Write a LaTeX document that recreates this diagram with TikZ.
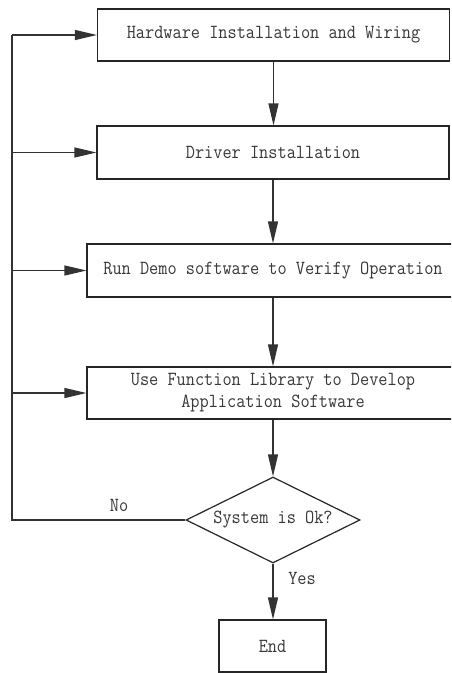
\documentclass[tikz,border=0pt]{standalone}
\usepackage{fontspec}
\setmonofont[FakeStretch=0.89]{Latin Modern Mono}
\usetikzlibrary{shapes.geometric,arrows.meta}
\begin{document}
\begin{tikzpicture}[x=1pt,y=-1pt,line width=1.2pt,
  txt/.style={font=\ttfamily\fontsize{20pt}{22pt}\selectfont,text=black!78},
  box/.style={txt,draw=black!85,rectangle,inner sep=0pt,align=center},
  lbl/.style={txt,inner sep=0pt},
  arr/.style={draw=black!80,-{Triangle[length=22pt,width=10pt]}}]
\useasboundingbox (0,0) rectangle (451,673);
\clip (0,0) rectangle (451,673);
\fill[white] (0,0) rectangle (451,673);
\node[box,minimum width=352pt,minimum height=52pt] (b1) at (273.5,35) {Hardware Installation and Wiring};
\node[box,minimum width=352pt,minimum height=53pt] (b2) at (273,152.5) {Driver Installation};
\node[box,minimum width=372pt,minimum height=53pt] (b3) at (273,270.5) {Run Demo software to Verify Operation};
\node[box,minimum width=372pt,minimum height=52pt] (b4) at (273,393) {Use Function Library to Develop\\Application Software};
\node[txt,diamond,draw=black!85,aspect=2,inner sep=0pt,minimum width=174pt,minimum height=86pt] (d) at (273,520) {System is Ok?};
\node[box,minimum width=107pt,minimum height=52pt] (e) at (272.5,646) {End};
\node[lbl] (no) at (119,505) {No};
\node[lbl] (yes) at (302,578) {Yes};
\coordinate (t1) at (12,35);
\coordinate (t2) at (12,152.5);
\coordinate (t3) at (12,270.5);
\coordinate (t4) at (12,393);
\coordinate (bl) at (12,520);
\draw[arr] (b1.south) -- (b1.south |- b2.north);
\draw[arr] (b2.south) -- (b2.south |- b3.north);
\draw[arr] (b3.south) -- (b3.south |- b4.north);
\draw[arr] (b4.south) -- (d.north);
\draw[arr] (d.south) -- (d.south |- e.north);
\draw[draw=black!80] (d.west) -- (bl) -- (t1);
\draw[arr] (t1) -- (b1.west);
\draw[arr] (t2) -- (b2.west);
\draw[arr] (t3) -- (b3.west);
\draw[arr] (t4) -- (b4.west);
\end{tikzpicture}
\end{document}
